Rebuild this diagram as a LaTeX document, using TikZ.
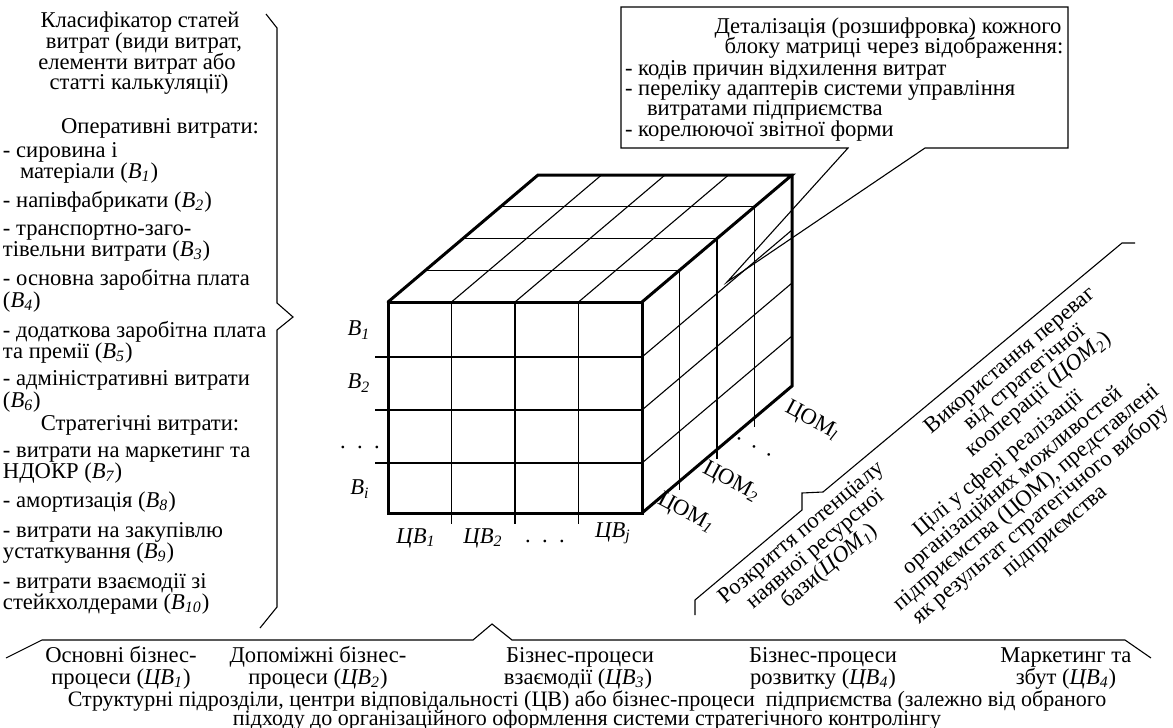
\documentclass[tikz,border=0pt]{standalone}
\usepackage{fontspec}
\setmainfont{Liberation Serif}
\newcommand\mainfs{\fontsize{11.3}{11}\selectfont}
\newcommand\Bx[1]{\textit{B\textsubscript{#1}}}
\newcommand\CVx[1]{\textit{ЦВ\textsubscript{#1}}}
\newcommand\COMx[1]{ЦОМ\textsubscript{\textit{#1}}}
\begin{document}
\begin{tikzpicture}[x=0.5pt,y=-0.5pt]
\tikzset{
  gridline/.style={line width=0.55pt},
  edgeline/.style={line width=1.5pt, line cap=round, line join=miter},
  plainline/.style={line width=0.55pt},
  lbl/.style={inner sep=0pt, outer sep=0pt, font=\mainfs},
  lft/.style={lbl, anchor=base west},
  ctr/.style={lbl, anchor=base},
  rot/.style={lbl, align=center, rotate=40},
  comlbl/.style={lbl, rotate=-28},
}
\useasboundingbox (0,0) rectangle (1173,728);

% ---------- left column ----------
\node[ctr] (c1) at (140,27) {Класифікатор статей};
\node[ctr] (c2) at (144,48) {витрат (види витрат,};
\node[ctr] (c3) at (137,69) {елементи витрат або};
\node[ctr] (c4) at (139,89) {статті калькуляції)};
\node[ctr] (c5) at (160,133) {Оперативні витрати:};
\node[lft] (c6) at (3,157) {- сировина і};
\node[lft] (c7) at (20,178) {матеріали (\Bx{1})};
\node[lft] (c8) at (3,207) {- напівфабрикати (\Bx{2})};
\node[lft] (c9) at (3,235) {- транспортно-заго-};
\node[lft] (c10) at (3,256) {тівельни витрати (\Bx{3})};
\node[lft] (c11) at (3,285) {- основна заробітна плата};
\node[lft] (c12) at (3,307) {(\Bx{4})};
\node[lft] (c13) at (3,337) {- додаткова заробітна плата};
\node[lft] (c14) at (3,358) {та премії (\Bx{5})};
\node[lft] (c15) at (3,385) {- адміністративні витрати};
\node[lft] (c16) at (3,407) {(\Bx{6})};
\node[ctr] (c17) at (140,430) {Стратегічні витрати:};
\node[lft] (c18) at (3,457) {- витрати на маркетинг та};
\node[lft] (c19) at (3,478) {НДОКР (\Bx{7})};
\node[lft] (c20) at (3,507) {- амортизація (\Bx{8})};
\node[lft] (c21) at (3,537) {- витрати на закупівлю};
\node[lft] (c22) at (3,558) {устаткування (\Bx{9})};
\node[lft] (c23) at (3,588) {- витрати взаємодії зі};
\node[lft] (c24) at (3,609) {стейкхолдерами (\Bx{10})};

% left brace
\draw[plainline] (266,14) -- (277,28) -- (277,303) -- (293,317) -- (277,330) -- (277,607) -- (260,628);

% ---------- callout ----------
\draw[plainline] (621,7) -- (1068,7) -- (1068,148) -- (925,148) -- (727,282) -- (848,148) -- (621,148) -- cycle;
\node[ctr] (d1) at (888,33) {Деталізація (розшифровка) кожного};
\node[ctr] (d2) at (894,54) {блоку матриці через відображення:};
\node[lft] (d3) at (625,75) {- кодів причин відхилення витрат};
\node[lft] (d4) at (625,95) {- переліку адаптерів системи управління};
\node[lft] (d5) at (647,115) {витратами підприємства};
\node[lft] (d6) at (625,136) {- корелюючої звітної форми};

% ---------- cube ----------
% front face grid
\foreach \x in {451.5,515,578.5} \draw[gridline] (\x,302) -- (\x,524);
\foreach \y in {357,410,463} \draw[gridline] (375,\y) -- (642,\y);
% top face grid
\foreach \k in {1,2,3} \draw[gridline] ({388+37.5*\k},{302-31.75*\k}) -- ({642+37.5*\k},{302-31.75*\k});
\foreach \x in {451.5,515,578.5} \draw[gridline] (\x,302) -- ({\x+150},175);
% right face grid
\foreach \k in {1,2,3} \draw[gridline] ({642+37.5*\k},{302-31.75*\k}) -- ({642+37.5*\k},{522-31.75*\k});
\foreach \y in {357,410,463} \draw[gridline] (642,\y) -- (792,{\y-127});
% outline
\draw[edgeline] (388,302) rectangle (642,513);
\draw[edgeline] (388,302) -- (538,175) -- (792,175) -- (642,302);
\draw[edgeline] (792,175) -- (792,386) -- (642,513);

% row labels
\node[lbl] (b1) at (359,330) {\Bx{1}};
\node[lbl] (b2) at (359,383) {\Bx{2}};
\node[lbl, anchor=base] (bd) at (360,448) {.\ \ .\ \ .};
\node[lbl] (bi) at (360,489) {\Bx{i}};
% column labels
\node[lbl] (v1) at (416,538) {\CVx{1}};
\node[lbl] (v2) at (483,538) {\CVx{2}};
\node[lbl, anchor=base] (vd) at (545,542) {.\ \ .\ \ .};
\node[lbl] (vj) at (613,533) {\CVx{j}};
% depth labels
\node[comlbl] (o1) at (686,513) {\COMx{1}};
\node[comlbl] (o2) at (731,482) {\COMx{2}};
\node[lbl, rotate=-28] (od) at (754,447) {.\ \ .\ \ .};
\node[comlbl] (ol) at (812,421) {\COMx{l}};

% ---------- diagonal brace and rotated texts ----------
\draw[plainline] (695,615) -- (695,600) -- (802,510) -- (802,493) -- (823,492) -- (1122,243) -- (1135,243);
\node[rot] (ra) at (816,550) {Розкриття потенціалу\\наявної ресурсної\\бази(\textit{\COMx{1}})};
\node[rot] (rb) at (1025,378) {Використання переваг\\від стратегічної\\кооперації (\textit{\COMx{2}})};
\node[rot] (rc) at (1027,498) {Цілі у сфері реалізації\\організаційних можливостей\\підприємства (ЦОМ), представлені\\як результат стратегічного вибору\\підприємства};

% ---------- bottom ----------
\draw[plainline] (6,658) -- (42,640) -- (473,640) -- (492,624) -- (512,640) -- (1125,640) -- (1151,658);
\node[ctr] (e1) at (121,662) {Основні бізнес-};
\node[ctr] (e2) at (121,684) {процеси (\CVx{1})};
\node[ctr] (e3) at (318,662) {Допоміжні бізнес-};
\node[ctr] (e4) at (318,684) {процеси (\CVx{2})};
\node[ctr] (e5) at (580,662) {Бізнес-процеси};
\node[ctr] (e6) at (578,684) {взаємодії (\CVx{3})};
\node[ctr] (e7) at (823,662) {Бізнес-процеси};
\node[ctr] (e8) at (823,684) {розвитку (\CVx{4})};
\node[ctr] (e9) at (1066,662) {Маркетинг та};
\node[ctr] (e10) at (1066,684) {збут (\CVx{4})};
\node[ctr, font=\fontsize{11}{11}\selectfont] (f1) at (587,706) {Структурні підрозділи, центри відповідальності (ЦВ) або бізнес-процеси\ \ підприємства (залежно від обраного};
\node[ctr, font=\fontsize{11}{11}\selectfont] (f2) at (587,725) {підходу до організаційного оформлення системи стратегічного контролінгу};
\end{tikzpicture}
\end{document}
